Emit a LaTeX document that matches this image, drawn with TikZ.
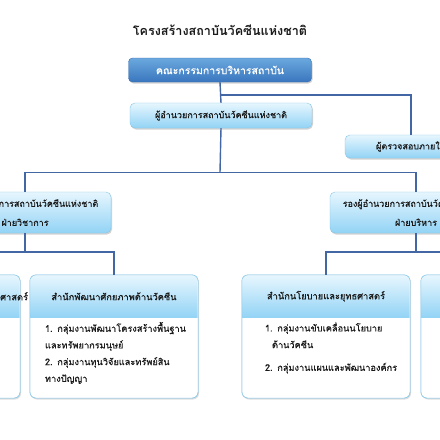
\documentclass[tikz,border=0pt]{standalone}
\usepackage{fontspec}
\newfontfamily\thai[Script=Thai,FakeBold=0.6]{Loma}
\newfontfamily\thaititle[Script=Thai]{Loma}
\usetikzlibrary{shadows,calc}
\definecolor{lineblue}{HTML}{4267A4}
\definecolor{darktop}{HTML}{6AA8DE}
\definecolor{darkbot}{HTML}{3A76BE}
\definecolor{darkedge}{HTML}{3B6FAE}
\definecolor{lighttop}{HTML}{E6F6FE}
\definecolor{lightbot}{HTML}{92D3F5}
\definecolor{lightedge}{HTML}{86C6E6}
\definecolor{txt}{HTML}{1A1A1A}
\tikzset{
  conn/.style={draw=lineblue, line width=1.4pt},
  darkbox/.style={rounded corners=4pt, draw=darkedge, top color=darktop, bottom color=darkbot,
    text=white, font=\thai\fontsize{10.5}{12}\selectfont, drop shadow={opacity=0.35, shadow xshift=1pt, shadow yshift=-1.5pt}},
  lightbox/.style={rounded corners=5pt, draw=lightedge, top color=lighttop, bottom color=lightbot,
    text=txt, font=\thai\fontsize{9}{19}\selectfont, align=center,
    drop shadow={opacity=0.35, shadow xshift=1pt, shadow yshift=-1.5pt}},
  unitbox/.style={rounded corners=6pt, draw=lightedge, fill=white, minimum width=168pt, minimum height=123pt,
    drop shadow={opacity=0.25, shadow xshift=1pt, shadow yshift=-1.5pt}},
  headtxt/.style={text=txt, font=\thai\fontsize{9.3}{11}\selectfont},
  bodytxt/.style={text=txt, font=\thai\fontsize{9.2}{16.7}\selectfont, align=left, anchor=north west, text width=158pt, inner sep=0pt}
}
\begin{document}
\begin{tikzpicture}[x=1pt,y=-1pt]
\useasboundingbox (0,0) rectangle (440,440);
\fill[white] (0,0) rectangle (440,440);
\clip (0,0) rectangle (440,440);

\node[text=txt, font=\thaititle\bfseries\fontsize{12.6}{14}\selectfont] (title) at (220,30) {โครงสร้างสถาบันวัคซีนแห่งชาติ};

\node[darkbox, minimum width=183pt, minimum height=24pt] (board) at (220,70) {คณะกรรมการบริหารสถาบัน};
\node[lightbox, minimum width=182pt, minimum height=25pt] (dir) at (221,115.5) {ผู้อำนวยการสถาบันวัคซีนแห่งชาติ};
\node[lightbox, minimum width=132pt, minimum height=23pt] (audit) at (411,146.5) {ผู้ตรวจสอบภายใน};
\node[lightbox, minimum width=172pt, minimum height=41pt] (vpa) at (25,212.5) {รองผู้อำนวยการสถาบันวัคซีนแห่งชาติ\\ฝ่ายวิชาการ};
\node[lightbox, minimum width=172pt, minimum height=41pt] (vpb) at (416,212.5) {รองผู้อำนวยการสถาบันวัคซีนแห่งชาติ\\ฝ่ายบริหาร};

% unit boxes
\foreach \nm/\cx in {u1/-64, u2/114, u3/326, u4/505}{
  \node[unitbox] (\nm) at (\cx,336.5) {};
  \shade[top color=lighttop, bottom color=lightbot]
    ($(\nm.north west)+(0.5,43)$) [rounded corners=6pt] -- ($(\nm.north west)+(0.5,0.5)$) -- ($(\nm.north east)+(-0.5,0.5)$) [sharp corners] -- ($(\nm.north east)+(-0.5,43)$) -- cycle;
  \draw[lightedge, rounded corners=6pt] (\nm.south west) rectangle (\nm.north east);
  \coordinate (\nm h) at ($(\nm.north)+(0,21.5)$);
  \coordinate (\nm b) at ($(\nm.north west)+(15,47)$);
}
\node[headtxt] (u1t) at (u1h) {สำนักวิจัยและพัฒนาวัคซีนและชีววิทยาศาสตร์};
\node[headtxt] (u2t) at (u2h) {สำนักพัฒนาศักยภาพด้านวัคซีน};
\node[headtxt] (u3t) at (u3h) {สำนักนโยบายและยุทธศาสตร์};
\node[headtxt] (u4t) at (u4h) {สำนักงานผู้อำนวยการ};
\node[bodytxt] (u2x) at (u2b) {1. กลุ่มงานพัฒนาโครงสร้างพื้นฐาน\\และทรัพยากรมนุษย์\\2. กลุ่มงานทุนวิจัยและทรัพย์สิน\\ทางปัญญา};
\node[bodytxt] (u3x) at ($(u3b)+(8,0)$) {1. กลุ่มงานขับเคลื่อนนโยบาย\\\hspace*{7pt}ด้านวัคซีน\\[6pt]2. กลุ่มงานแผนและพัฒนาองค์กร};

% connectors
\coordinate (j1) at (220,95);
\coordinate (j2) at (220,172.5);
\coordinate (jl) at (25,252);
\coordinate (jr) at (416,252);
\draw[conn] (board.south) -- (dir.north);
\draw[conn] (j1) -| (audit.north);
\draw[conn] (dir.south) -- (j2);
\draw[conn] (j2) -| (vpa.north);
\draw[conn] (j2) -| (vpb.north);
\draw[conn] (vpa.south) -- (jl);
\draw[conn] (vpb.south) -- (jr);
\draw[conn] (jl) -| (u1.north);
\draw[conn] (jl) -| (u2.north);
\draw[conn] (jr) -| (u3.north);
\draw[conn] (jr) -| (u4.north);
\end{tikzpicture}
\end{document}
